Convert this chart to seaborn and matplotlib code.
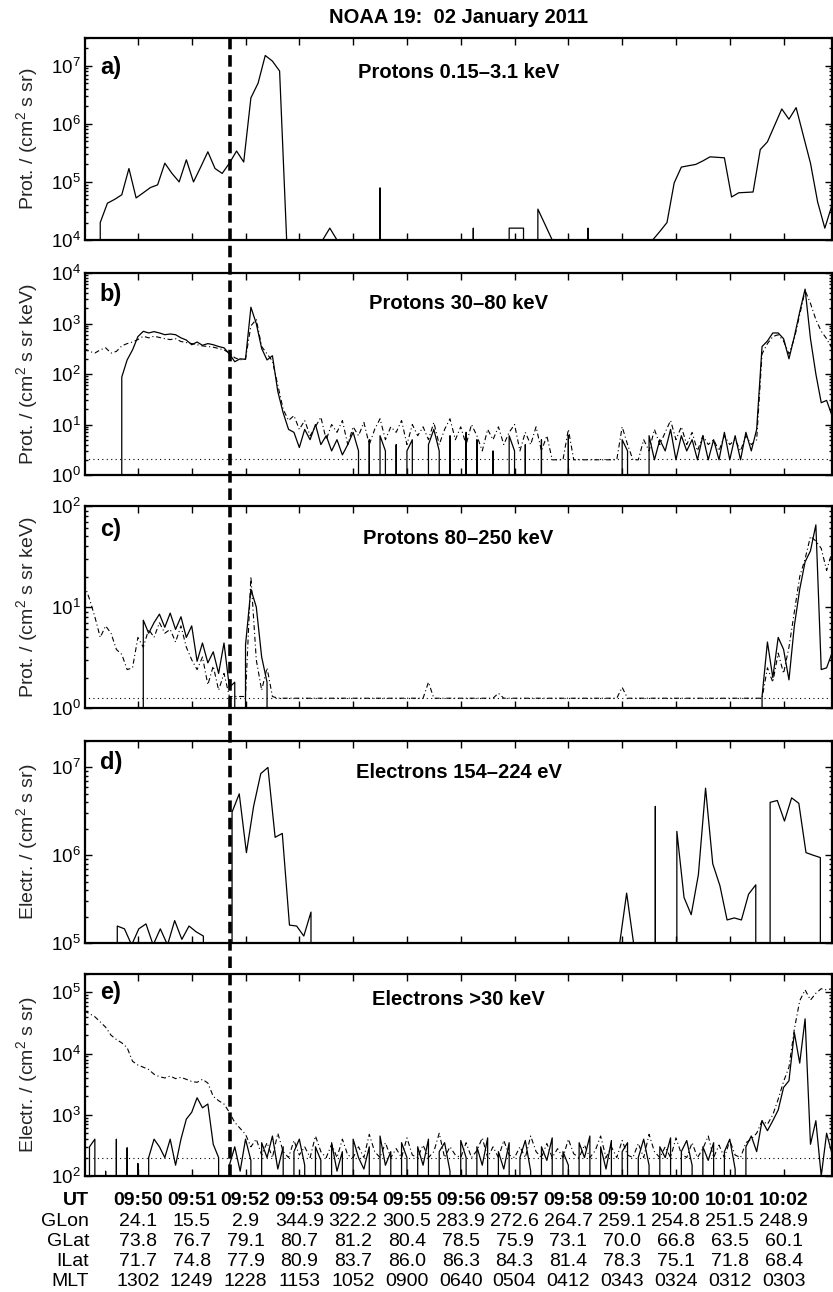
import numpy as np
import matplotlib
matplotlib.use("Agg")
import matplotlib.pyplot as plt
import matplotlib.ticker as mticker
from matplotlib.lines import Line2D
from matplotlib.transforms import blended_transform_factory
import seaborn as sns

# ── Data (time = seconds after 09:50:00 UT) ─────────────────────────
TED_DT = 8          # TED cadence, s
MEPED_DT = 6
PROT_LOW_T0 = -58
ELEC_LOW_T0 = -55
MEPED_T0 = -60
EVENT_T = 103       # dashed line, ~09:51:43

# a) Protons 0.15-3.1 keV   (0 = no counts)
PROT_LOW = [0, 0, 2.0e4, 4.3e4, 5.0e4, 6.0e4, 1.7e5, 5.3e4, 6.5e4, 8.0e4,
            8.9e4, 2.1e5, 1.4e5, 1.0e5, 2.4e5, 1.0e5, 1.8e5, 3.3e5, 1.7e5, 1.4e5,
            2.1e5, 3.4e5, 2.2e5, 2.8e6, 5.0e6, 1.5e7, 1.2e7, 8.1e6, 9e3, 9e3,
            9e3, 9e3, 9e3, 1e4, 1.6e4, 1e4, 9e3, 9e3, 9e3, 9e3,
            0, 7.9e4, 0, 9e3, 9e3, 9e3, 9e3, 9e3, 9e3, 9e3,
            9e3, 9e3, 9e3, 0, 1.6e4, 0, 9e3, 9e3, 0, 1.6e4,
            1.6e4, 1.6e4, 0, 3.4e4, 1.85e4, 1e4, 9e3, 9e3, 9e3, 0,
            1.6e4, 0, 9e3, 9e3, 9e3, 9e3, 9e3, 9e3, 9e3, 1e4,
            1.4e4, 2.0e4, 9.6e4, 1.8e5, 1.9e5, 2.0e5, 2.3e5, 2.7e5, 2.65e5, 2.6e5,
            5.5e4, 6.5e4, 6.6e4, 6.7e4, 3.6e5, 4.9e5, 9.4e5, 1.8e6, 1.2e6, 1.9e6,
            6.3e5, 2.1e5, 4.5e4, 1.6e4, 4.0e4, 6.0e4]

# d) Electrons 154-224 eV
ELEC_LOW = [0, 0, 0, 0, 1.56e5, 1.45e5, 9.5e4, 1.45e5, 1.65e5, 9.5e4,
            1.45e5, 9.5e4, 1.8e5, 1.1e5, 1.56e5, 1.34e5, 1.2e5, 0, 0, 0,
            3.1e6, 5.0e6, 1.07e6, 3.6e6, 8.5e6, 1.0e7, 1.6e6, 1.77e6, 1.6e5, 1.56e5,
            1.2e5, 2.25e5, 0, 0, 0, 0, 0, 0, 0, 0,
            0, 0, 0, 0, 0, 0, 0, 0, 0, 0,
            0, 0, 0, 0, 0, 0, 0, 0, 0, 0,
            0, 0, 0, 0, 0, 0, 0, 0, 0, 0,
            0, 0, 0, 0, 9.5e4, 3.7e5, 9.5e4, 9.5e4, 0, 3.6e6,
            0, 0, 1.87e6, 3.3e5, 2.1e5, 6.0e5, 5.8e6, 8.0e5, 4.5e5, 1.83e5,
            1.93e5, 1.83e5, 3.6e5, 4.6e5, 0, 4.0e6, 4.2e6, 2.45e6, 4.5e6, 3.9e6,
            1.07e6, 1.0e6, 9.4e5, 0, 0]

# b) Protons 30-80 keV: 0 deg (solid) and 90 deg (dash-dot)
B_SOLID = [0, 0, 0, 0, 0, 0, 0, 87, 190, 300,
           550, 700, 650, 690, 650, 600, 620, 600, 520, 470,
           380, 430, 370, 400, 380, 350, 330, 250, 175, 200,
           195, 2100, 1000, 320, 190, 230, 45, 17, 8, 7,
           3.5, 8, 5, 10, 4, 6, 3, 5, 2.5, 4,
           7, 3, 0, 5, 0, 6, 3, 0, 4, 0,
           3, 5, 0, 0, 4, 8, 3, 0, 6, 0,
           0, 7, 0, 5, 0, 0, 3, 0, 0, 6,
           3, 0, 4, 0, 0, 5, 0, 0, 0, 0,
           6, 0, 0, 0, 0, 0, 0, 0, 0, 0,
           5, 3, 0, 0, 0, 6, 2, 5, 3, 8,
           2, 6, 3, 5, 2, 6, 2, 5, 2, 7,
           2, 6, 2, 7, 3, 8, 350, 450, 650, 650,
           500, 200, 550, 1700, 4800, 500, 100, 27, 30, 15]
B_DASH = [320, 280, 260, 300, 330, 260, 280, 360, 400, 430,
          480, 560, 520, 560, 530, 500, 480, 500, 440, 420,
          400, 380, 360, 350, 340, 320, 300, 260, 210, 190,
          200, 900, 1200, 350, 250, 180, 60, 20, 12, 15,
          8, 12, 6, 9, 14, 5, 10, 7, 12, 4,
          9, 6, 11, 4, 8, 13, 5, 9, 7, 12,
          4, 10, 6, 9, 5, 11, 4, 8, 13, 5,
          9, 4, 10, 6, 3, 8, 5, 9, 4, 7,
          10, 3, 7, 4, 9, 3, 6, 2, 2, 2,
          8, 2, 2, 2, 2, 2, 2, 2, 2, 2,
          9, 4, 2, 2, 5, 3, 8, 4, 7, 12,
          5, 9, 4, 7, 3, 6, 4, 5, 3, 6,
          4, 5, 3, 6, 4, 5, 250, 400, 550, 600,
          450, 250, 500, 1500, 4500, 2500, 1200, 700, 500, 320]

# c) Protons 80-250 keV
C_SOLID = [0, 0, 0, 0, 0, 0, 0, 0, 0, 0,
           0, 7.4, 5.5, 7.0, 8.5, 6.3, 8.7, 6.0, 8.0, 5.0,
           6.5, 2.9, 4.4, 2.8, 3.6, 2.2, 4.4, 1.6, 1.8, 0,
           4.2, 15, 10, 3.2, 1.8, 0, 0, 0, 0, 0,
           0, 0, 0, 0, 0, 0, 0, 0, 0, 0,
           0, 0, 0, 0, 0, 0, 0, 0, 0, 0,
           0, 0, 0, 0, 0, 0, 0, 0, 0, 0,
           0, 0, 0, 0, 0, 0, 0, 0, 0, 0,
           0, 0, 0, 0, 0, 0, 0, 0, 0, 0,
           0, 0, 0, 0, 0, 0, 0, 0, 0, 0,
           0, 0, 0, 0, 0, 0, 0, 0, 0, 0,
           0, 0, 0, 0, 0, 0, 0, 0, 0, 0,
           0, 0, 0, 0, 0, 0, 1.3, 4.5, 2.0, 5.0,
           3.8, 1.9, 6.5, 15, 28, 36, 65, 2.4, 2.5, 3.5]
C_DASH = [17, 12, 8, 5, 6.5, 5.5, 3.8, 3.4, 2.4, 2.5,
          5, 4, 6, 5, 7, 5.5, 6, 4.5, 6.5, 4,
          3, 2.4, 3.2, 1.7, 2.6, 1.5, 2.2, 1.3, 1.3, 1.3,
          1.3, 20, 3, 1.5, 2.5, 1.3, 1.25, 1.25, 1.25, 1.25,
          1.25, 1.25, 1.25, 1.25, 1.25, 1.25, 1.25, 1.25, 1.25, 1.25,
          1.25, 1.25, 1.25, 1.25, 1.25, 1.25, 1.25, 1.25, 1.25, 1.25,
          1.25, 1.25, 1.25, 1.25, 1.8, 1.25, 1.25, 1.25, 1.25, 1.25,
          1.25, 1.25, 1.25, 1.25, 1.25, 1.25, 1.25, 1.4, 1.25, 1.25,
          1.25, 1.25, 1.25, 1.25, 1.25, 1.25, 1.25, 1.25, 1.25, 1.25,
          1.25, 1.25, 1.25, 1.25, 1.25, 1.25, 1.25, 1.25, 1.25, 1.25,
          1.6, 1.25, 1.25, 1.25, 1.25, 1.25, 1.25, 1.25, 1.25, 1.25,
          1.25, 1.25, 1.25, 1.25, 1.25, 1.25, 1.25, 1.25, 1.25, 1.25,
          1.25, 1.25, 1.25, 1.25, 1.25, 1.25, 1.25, 2.5, 1.8, 3.5,
          2.2, 4.0, 9, 20, 30, 50, 45, 38, 23, 35]

# e) Electrons >30 keV
E_SOLID = [0, 300, 400, 0, 120, 0, 400, 0, 290, 0,
           160, 0, 200, 400, 300, 200, 400, 150, 400, 850,
           1100, 1900, 1300, 1500, 330, 200, 0, 150, 300, 120,
           400, 180, 0, 350, 200, 450, 130, 300, 0, 250,
           400, 150, 0, 300, 180, 0, 350, 120, 250, 0,
           400, 200, 130, 300, 0, 450, 150, 250, 0, 350,
           200, 0, 300, 150, 400, 0, 250, 350, 120, 0,
           380, 200, 0, 300, 150, 420, 0, 250, 130, 350,
           0, 200, 380, 120, 0, 300, 180, 420, 0, 250,
           150, 0, 350, 200, 450, 0, 300, 130, 380, 0,
           250, 350, 0, 200, 400, 150, 0, 300, 200, 420,
           0, 250, 380, 150, 0, 300, 180, 350, 0, 250,
           400, 130, 0, 300, 450, 250, 800, 550, 800, 1200,
           2800, 3600, 2.2e4, 7000, 3.7e4, 330, 800, 100, 500, 230]
E_DASH = [5e4, 4.5e4, 4.0e4, 3.3e4, 2.7e4, 2.0e4, 1.7e4, 1.5e4, 1.25e4, 7.5e3,
          6.5e3, 6.0e3, 5.5e3, 4.6e3, 4.2e3, 4.0e3, 4.3e3, 3.9e3, 4.1e3, 3.8e3,
          3.5e3, 3.4e3, 3.8e3, 3.3e3, 2.0e3, 1.7e3, 1.5e3, 1.1e3, 750, 600,
          480, 300, 400, 220, 350, 200, 500, 250, 200, 380,
          220, 300, 200, 450, 250, 200, 330, 200, 400, 220,
          200, 300, 200, 480, 250, 200, 350, 200, 280, 200,
          420, 220, 200, 320, 200, 250, 500, 200, 300, 220,
          200, 350, 200, 260, 420, 200, 300, 200, 380, 220,
          200, 300, 200, 450, 250, 200, 340, 200, 280, 200,
          400, 230, 200, 320, 200, 260, 450, 200, 300, 200,
          380, 220, 200, 340, 200, 480, 250, 200, 300, 200,
          420, 230, 200, 350, 200, 280, 450, 200, 320, 200,
          380, 220, 200, 350, 400, 500, 800, 700, 1000, 1800,
          3500, 6000, 2.5e4, 7.3e4, 1.1e5, 7.5e4, 9.7e4, 1.15e5, 1.1e5, 1.15e5]

# one-count background levels (dotted)
BG_T = [-60, 780]
B_BG = [2.05, 2.05]
C_BG = [1.25, 1.25]
E_BG = [195, 195]

# orbit table under the plot
UT_TICKS = [0, 60, 120, 180, 240, 300, 360, 420, 480, 540, 600, 660, 720]
UT_LABELS = ["09:50", "09:51", "09:52", "09:53", "09:54", "09:55", "09:56",
             "09:57", "09:58", "09:59", "10:00", "10:01", "10:02"]
GLON = [24.1, 15.5, 2.9, 344.9, 322.2, 300.5, 283.9, 272.6, 264.7, 259.1, 254.8, 251.5, 248.9]
GLAT = [73.8, 76.7, 79.1, 80.7, 81.2, 80.4, 78.5, 75.9, 73.1, 70.0, 66.8, 63.5, 60.1]
ILAT = [71.7, 74.8, 77.9, 80.9, 83.7, 86.0, 86.3, 84.3, 81.4, 78.3, 75.1, 71.8, 68.4]
MLT = ["1302", "1249", "1228", "1153", "1052", "0900", "0640",
       "0504", "0412", "0343", "0324", "0312", "0303"]

# ── Style ───────────────────────────────────────────────────────────
sns.set_style("ticks")
plt.rcParams["font.family"] = ["Liberation Sans", "DejaVu Sans"]
plt.rcParams["mathtext.fontset"] = "custom"
plt.rcParams["mathtext.rm"] = "Liberation Sans"
plt.rcParams["mathtext.default"] = "regular"
plt.rcParams["axes.edgecolor"] = "black"
plt.rcParams["xtick.color"] = "black"
plt.rcParams["ytick.color"] = "black"
plt.rcParams["text.color"] = "black"

SOLID = dict(color="black", lw=0.9, linestyle="-")
DASHDOT = dict(color="black", lw=0.8, linestyle=(0, (4.5, 2.5, 1, 2.5)))
DOTTED = dict(color="black", lw=0.8, linestyle=(0, (1, 3)))

W, H = 833, 1292
LEFT, RIGHT, PH = 85, 832, 202


def times(t0, dt, vals):
    return t0 + dt * np.arange(len(vals))


t_prot = times(PROT_LOW_T0, TED_DT, PROT_LOW)
t_elec = times(ELEC_LOW_T0, TED_DT, ELEC_LOW)
t_mep = times(MEPED_T0, MEPED_DT, B_SOLID)

panels = [
    dict(top=38, ylim=(1e4, 3e7), ylabel="Prot. / (cm$^2$ s sr)",
         title="Protons 0.15–3.1 keV", letter="a)", t_off=40, l_off=36,
         traces=[(t_prot, PROT_LOW, SOLID)]),
    dict(top=273, ylim=(1, 1e4), ylabel="Prot. / (cm$^2$ s sr keV)",
         title="Protons 30–80 keV", letter="b)", t_off=36, l_off=28,
         traces=[(BG_T, B_BG, DOTTED), (t_mep, B_DASH, DASHDOT), (t_mep, B_SOLID, SOLID)]),
    dict(top=506, ylim=(1, 100), ylabel="Prot. / (cm$^2$ s sr keV)",
         title="Protons 80–250 keV", letter="c)", t_off=38, l_off=30,
         traces=[(BG_T, C_BG, DOTTED), (t_mep, C_DASH, DASHDOT), (t_mep, C_SOLID, SOLID)]),
    dict(top=741, ylim=(1e5, 2e7), ylabel="Electr. / (cm$^2$ s sr)",
         title="Electrons 154–224 eV", letter="d)", t_off=37, l_off=28,
         traces=[(t_elec, ELEC_LOW, SOLID)]),
    dict(top=974, ylim=(1e2, 2e5), ylabel="Electr. / (cm$^2$ s sr)",
         title="Electrons >30 keV", letter="e)", t_off=31, l_off=25,
         traces=[(BG_T, E_BG, DOTTED), (t_mep, E_DASH, DASHDOT), (t_mep, E_SOLID, SOLID)]),
]

fig = plt.figure(figsize=(W / 100, H / 100), dpi=100, facecolor="white")
axes = []
for p in panels:
    ax = fig.add_axes([LEFT / W, 1 - (p["top"] + PH) / H, (RIGHT - LEFT) / W, PH / H])
    ax.set_yscale("log", nonpositive="clip")
    for t, v, style in p["traces"]:
        sns.lineplot(x=np.asarray(t, float), y=np.asarray(v, float), ax=ax,
                     estimator=None, legend=False, **style)
    ax.set_xlim(-59, 774)
    ax.set_ylim(*p["ylim"])
    ax.set_xticks(UT_TICKS)
    ax.xaxis.set_major_formatter(mticker.NullFormatter())
    ax.xaxis.set_minor_locator(mticker.NullLocator())
    ax.yaxis.set_major_locator(mticker.LogLocator(base=10, numticks=12))
    ax.yaxis.set_minor_locator(mticker.LogLocator(base=10, subs=np.arange(2, 10), numticks=60))
    ax.yaxis.set_minor_formatter(mticker.NullFormatter())
    ax.tick_params(which="both", direction="in", top=True, right=True, width=1.0)
    ax.tick_params(which="major", length=5, labelsize=13.5, pad=3)
    ax.tick_params(which="minor", length=2.5)
    for s in ax.spines.values():
        s.set_linewidth(1.6)
        s.set_color("black")
    ax.set_xlabel("")
    ax.set_ylabel(p["ylabel"], fontsize=14)
    ax.yaxis.set_label_coords(-0.060, 0.5)
    ax.text(0.02, 1 - p["l_off"] / PH, p["letter"], transform=ax.transAxes,
            ha="left", va="baseline", fontsize=17, fontweight="bold")
    ax.text(0.5, 1 - p["t_off"] / PH, p["title"], transform=ax.transAxes,
            ha="center", va="baseline", fontsize=14.5, fontweight="bold")
    axes.append(ax)

# main title
fig.text((LEFT + RIGHT) / 2 / W, 1 - 22.7 / H, "NOAA 19:  02 January 2011",
         ha="center", va="baseline", fontsize=14.5, fontweight="bold")

# dashed event line through all panels
ax_e = axes[-1]
tr = blended_transform_factory(ax_e.transData, fig.transFigure)
fig.add_artist(Line2D([EVENT_T, EVENT_T], [1 - (974 + PH) / H, 1 - 38 / H], transform=tr,
                      color="black", lw=2.6, linestyle=(0, (3.2, 1.6))))

# orbit table
rows = [("UT", UT_LABELS, "bold", 1205),
        ("GLon", [f"{v:.1f}" for v in GLON], "normal", 1226),
        ("GLat", [f"{v:.1f}" for v in GLAT], "normal", 1246.5),
        ("ILat", [f"{v:.1f}" for v in ILAT], "normal", 1266.5),
        ("MLT", MLT, "normal", 1286.5)]
for name, vals, weight, ypx in rows:
    y = 1 - ypx / H
    fig.text(89 / W, y, name, ha="right", va="baseline", fontsize=14, fontweight=weight)
    for t, s in zip(UT_TICKS, vals):
        fig.text(t, y, s, transform=tr, ha="center", va="baseline",
                 fontsize=14, fontweight=weight)

fig.savefig("out.png", dpi=100, facecolor="white")
